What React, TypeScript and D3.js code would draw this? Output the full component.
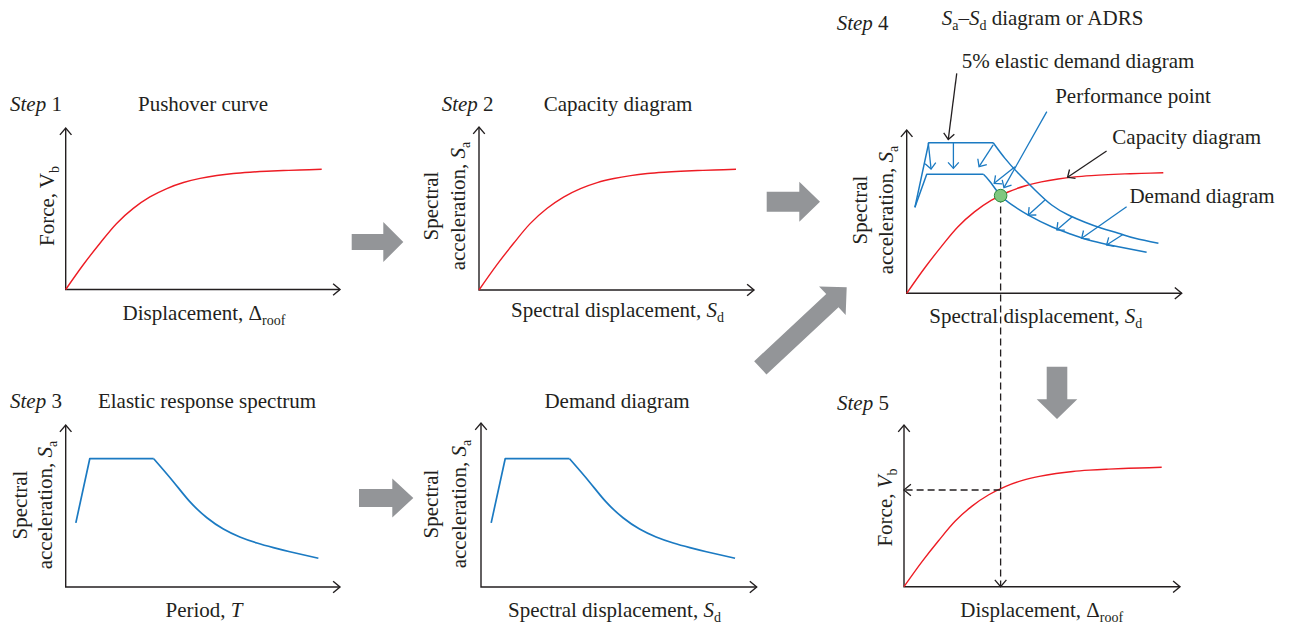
import React from "react";
import * as d3 from "d3";

// Pushover / capacity curve (normalised displacement 0–10, force 0–100)
const capacityDisp = [0, 0.7, 1.34, 1.99, 2.64, 3.29, 3.95, 4.6, 5.25, 5.9, 6.55, 7.2, 7.85, 8.5, 9.15, 10];
const capacityForce = [0, 21, 38.5, 55, 67.5, 77, 84, 89, 92.4, 94.8, 96.5, 97.6, 98.4, 99, 99.4, 100];

// Elastic response spectrum (period T vs spectral acceleration, % of plateau)
const spectrumT = [0.16, 0.38, 1.39, 1.7, 1.96, 2.23, 2.49, 2.75, 3.02, 3.28, 3.54, 3.99];
const spectrumSa = [50, 100, 100, 82.1, 66.5, 54.0, 45.2, 39.0, 34.3, 30.7, 27.5, 22.4];

// ADRS: 5% elastic demand diagram
const elasticSd = [0.32, 0.86, 3.37, 3.83, 4.35, 5.0, 5.65, 6.3, 6.95, 7.6, 8.25, 8.9, 9.81];
const elasticSa = [71.3, 124.9, 124.9, 111.9, 99.5, 85.7, 73.2, 64.9, 58.9, 53.9, 49.8, 45.6, 41.5];

// ADRS: reduced (inelastic) demand diagram
const demandSd = [0.32, 0.78, 2.99, 3.25, 3.66, 4.09, 4.74, 5.65, 6.3, 6.95, 7.6, 8.25, 9.35];
const demandSa = [71.3, 98.7, 98.7, 92.5, 81, 73.5, 64.9, 55.2, 49.8, 45.0, 41.5, 38.6, 34.0];

// Performance point (intersection of capacity and demand)
const performanceSd = 3.66;
const performanceSa = 81;

// Reduction arrows from the elastic to the reduced demand
const reductionFromSd = [0.84, 1.82, 3.37, 4.22, 5.39, 6.45, 8.44];
const reductionFromSa = [124.9, 124.9, 123, 105, 77.4, 63.5, 48.9];
const reductionToSd = [0.95, 1.82, 2.82, 3.41, 4.74, 5.85, 7.79];
const reductionToSa = [103, 103.6, 105, 91.2, 64.9, 52.5, 40.0];

// Leader lines for the ADRS annotations
const leaderNames = ["elastic", "performance", "capacity", "demand"];
const leaderFromSd = [1.95, 5.46, 7.79, 8.57];
const leaderFromSa = [182.4, 150.6, 118, 71.8];
const leaderToSd = [1.62, 3.79, 6.27, 6.82];
const leaderToSa = [127.6, 87.6, 96.2, 45.6];

type Pt = [number, number];
const zip = (a: number[], b: number[]): Pt[] => a.map((v, i) => [v, b[i]]);

const INK = "#231f20";
const RED = "#ed1c24";
const BLUE = "#1b7ac2";
const GRAY = "#939598";
const FONT = "'Liberation Serif', 'Times New Roman', serif";

const capacity = zip(capacityDisp, capacityForce);
const spectrum = zip(spectrumT, spectrumSa);
const elastic = zip(elasticSd, elasticSa);
const demand = zip(demandSd, demandSa);

function scales(x0: number, x1: number, xMax: number, y0: number, y1: number, yMax: number) {
  return {
    x: d3.scaleLinear().domain([0, xMax]).range([x0, x1]),
    y: d3.scaleLinear().domain([0, yMax]).range([y0, y1]),
  };
}

type S = ReturnType<typeof scales>;

function arrowHead(x0: number, y0: number, x1: number, y1: number, len = 8, ang = 40) {
  const a = Math.atan2(y1 - y0, x1 - x0);
  const r = (ang * Math.PI) / 180;
  const p1 = [x1 - len * Math.cos(a - r), y1 - len * Math.sin(a - r)];
  const p2 = [x1 - len * Math.cos(a + r), y1 - len * Math.sin(a + r)];
  return `M${p1[0]},${p1[1]}L${x1},${y1}L${p2[0]},${p2[1]}`;
}

function blockArrow(x0: number, y0: number, x1: number, y1: number, sw: number, hw: number, hl: number) {
  const len = Math.hypot(x1 - x0, y1 - y0);
  const ux = (x1 - x0) / len;
  const uy = (y1 - y0) / len;
  const nx = -uy;
  const ny = ux;
  const bx = x1 - ux * hl;
  const by = y1 - uy * hl;
  const pts = [
    [x0 + (nx * sw) / 2, y0 + (ny * sw) / 2],
    [bx + (nx * sw) / 2, by + (ny * sw) / 2],
    [bx + (nx * hw) / 2, by + (ny * hw) / 2],
    [x1, y1],
    [bx - (nx * hw) / 2, by - (ny * hw) / 2],
    [bx - (nx * sw) / 2, by - (ny * sw) / 2],
    [x0 - (nx * sw) / 2, y0 - (ny * sw) / 2],
  ];
  return pts.map((p) => p.join(",")).join(" ");
}

const lineOf = (s: S, curve: d3.CurveFactory) =>
  d3
    .line<Pt>()
    .x((d) => s.x(d[0]))
    .y((d) => s.y(d[1]))
    .curve(curve);

function Axes({ s, top, right }: { s: S; top: number; right: number }) {
  const ox = s.x(0);
  const oy = s.y(0);
  return (
    <g stroke={INK} strokeWidth={1.4} fill="none">
      <path d={`M${ox},${top}V${oy}H${right}`} />
      <path d={arrowHead(ox, oy, ox, top, 9, 40)} />
      <path d={arrowHead(ox, oy, right, oy, 9, 40)} />
    </g>
  );
}

function CapacityCurve({ s }: { s: S }) {
  return (
    <path
      d={lineOf(s, d3.curveCatmullRom.alpha(0.5))(capacity) || ""}
      fill="none"
      stroke={RED}
      strokeWidth={1.4}
    />
  );
}

// Piecewise spectrum: straight rise and plateau, smooth descending branch
function Spectrum({ s, data, width = 1.7 }: { s: S; data: Pt[]; width?: number }) {
  const straight = lineOf(s, d3.curveLinear)(data.slice(0, 3)) || "";
  const falling = lineOf(s, d3.curveNatural)(data.slice(2)) || "";
  return (
    <g fill="none" stroke={BLUE} strokeWidth={width} strokeLinejoin="round">
      <path d={straight} />
      <path d={falling} />
    </g>
  );
}

const Sub = ({ t }: { t: string }) => (
  <tspan dy={5} fontSize={14}>
    {t}
  </tspan>
);

function StepLabel({ x, y, n }: { x: number; y: number; n: string }) {
  return (
    <text x={x} y={y}>
      <tspan fontStyle="italic">Step</tspan>
      {" " + n}
    </text>
  );
}

function SaLabel({ x1, x2, y }: { x1: number; x2: number; y: number }) {
  return (
    <g>
      <text transform={`translate(${x1},${y}) rotate(-90)`} textAnchor="middle">
        Spectral
      </text>
      <text transform={`translate(${x2},${y}) rotate(-90)`} textAnchor="middle">
        {"acceleration, "}
        <tspan fontStyle="italic">S</tspan>
        <Sub t="a" />
      </text>
    </g>
  );
}

function SdLabel({ x, y }: { x: number; y: number }) {
  return (
    <text x={x} y={y} textAnchor="middle">
      {"Spectral displacement, "}
      <tspan fontStyle="italic">S</tspan>
      <Sub t="d" />
    </text>
  );
}

function DispLabel({ x, y }: { x: number; y: number }) {
  return (
    <text x={x} y={y} textAnchor="middle">
      {"Displacement, Δ"}
      <Sub t="roof" />
    </text>
  );
}

function ForceLabel({ x, y, italicV }: { x: number; y: number; italicV: boolean }) {
  return (
    <text transform={`translate(${x},${y}) rotate(-90)`} textAnchor="middle">
      {"Force, "}
      <tspan fontStyle={italicV ? "italic" : "normal"}>V</tspan>
      <Sub t="b" />
    </text>
  );
}

export default function App() {
  // panel scales
  const s1 = scales(65.7, 321.7, 10, 289.5, 169.3, 100);
  const s2 = scales(479, 736, 10, 290, 169.3, 100);
  const s3 = scales(65.7, 319, 4, 587, 458.7, 100);
  const s4 = scales(481, 735.7, 4, 587, 458.7, 100);
  const s5 = scales(906.7, 1163.3, 10, 293.3, 172.7, 100);
  const s6 = scales(904, 1161.7, 10, 586.7, 467.3, 100);

  const px = s5.x(performanceSd);
  const py = s5.y(performanceSa);
  const fy = s6.y(performanceSa);
  const baseY6 = s6.y(0);
  const axisX6 = s6.x(0);

  const leaderColor: Record<string, string> = {
    elastic: INK,
    performance: BLUE,
    capacity: INK,
    demand: BLUE,
  };

  return (
    <svg
      width={1289}
      height={625}
      style={{ position: "absolute", left: 0, top: 0, display: "block", background: "#fff" }}
      fontFamily={FONT}
      fontSize={21}
      fill={INK}
    >
      {/* Block arrows linking the steps */}
      <g fill={GRAY}>
        <polygon points={blockArrow(351.7, 242, 403.3, 242, 16, 40, 20)} />
        <polygon points={blockArrow(359, 498, 413.3, 498, 18, 39, 21)} />
        <polygon points={blockArrow(766.7, 201.7, 820, 201.7, 20, 40, 20.7)} />
        <polygon points={blockArrow(760.3, 367.8, 846.7, 287.3, 18, 39, 19.6)} />
        <polygon points={blockArrow(1057, 366.7, 1057, 419, 20.6, 40.6, 19.7)} />
      </g>

      {/* Step 1: pushover curve */}
      <StepLabel x={10} y={111} n="1" />
      <text x={203} y={111} textAnchor="middle">Pushover curve</text>
      <Axes s={s1} top={128} right={340} />
      <CapacityCurve s={s1} />
      <DispLabel x={204} y={320} />
      <ForceLabel x={53.5} y={206} italicV={false} />

      {/* Step 2: capacity diagram */}
      <StepLabel x={441.7} y={111} n="2" />
      <text x={618} y={111} textAnchor="middle">Capacity diagram</text>
      <Axes s={s2} top={127} right={754} />
      <CapacityCurve s={s2} />
      <SdLabel x={617.5} y={317} />
      <SaLabel x1={438} x2={465} y={206} />

      {/* Step 3: elastic response spectrum */}
      <StepLabel x={10} y={408} n="3" />
      <text x={207} y={408} textAnchor="middle">Elastic response spectrum</text>
      <Axes s={s3} top={425} right={340} />
      <Spectrum s={s3} data={spectrum} />
      <text x={204} y={616.5} textAnchor="middle">
        {"Period, "}
        <tspan fontStyle="italic">T</tspan>
      </text>
      <SaLabel x1={26.5} x2={52} y={505} />

      {/* Demand diagram */}
      <text x={617} y={408} textAnchor="middle">Demand diagram</text>
      <Axes s={s4} top={423} right={756.7} />
      <Spectrum s={s4} data={spectrum} />
      <SdLabel x={614.5} y={617} />
      <SaLabel x1={438} x2={466} y={504} />

      {/* Step 4: ADRS */}
      <StepLabel x={836.7} y={29.5} n="4" />
      <text x={941.7} y={25} style={{ whiteSpace: "pre" }}>
        <tspan fontStyle="italic">S</tspan>
        <Sub t="a" />
        <tspan dy={-5}>–</tspan>
        <tspan fontStyle="italic">S</tspan>
        <Sub t="d" />
        <tspan dy={-5}>{" diagram or ADRS"}</tspan>
      </text>
      <text x={1078} y={68} textAnchor="middle">5% elastic demand diagram</text>
      <text x={1133} y={103} textAnchor="middle">Performance point</text>
      <text x={1186.7} y={144} textAnchor="middle">Capacity diagram</text>
      <text x={1202} y={202.5} textAnchor="middle">Demand diagram</text>

      <Axes s={s5} top={130} right={1181.7} />
      <CapacityCurve s={s5} />
      <Spectrum s={s5} data={elastic} width={1.5} />
      <Spectrum s={s5} data={demand} width={1.5} />

      <g fill="none" stroke={BLUE} strokeWidth={1.3}>
        {reductionFromSd.map((d, i) => {
          const x0 = s5.x(d);
          const y0 = s5.y(reductionFromSa[i]);
          const x1 = s5.x(reductionToSd[i]);
          const y1 = s5.y(reductionToSa[i]);
          return (
            <g key={i}>
              <line x1={x0} y1={y0} x2={x1} y2={y1} />
              <path d={arrowHead(x0, y0, x1, y1, 8, 42)} />
            </g>
          );
        })}
      </g>

      <g fill="none" strokeWidth={1.3}>
        {leaderNames.map((n, i) => {
          const x0 = s5.x(leaderFromSd[i]);
          const y0 = s5.y(leaderFromSa[i]);
          const x1 = s5.x(leaderToSd[i]);
          const y1 = s5.y(leaderToSa[i]);
          return (
            <g key={n} stroke={leaderColor[n]}>
              <line x1={x0} y1={y0} x2={x1} y2={y1} />
              <path d={arrowHead(x0, y0, x1, y1, 8, 42)} />
            </g>
          );
        })}
      </g>

      <SdLabel x={1035.8} y={322.5} />
      <SaLabel x1={866.5} x2={893} y={210} />

      {/* Step 5: pushover curve with performance point */}
      <StepLabel x={837} y={410} n="5" />
      <Axes s={s6} top={425} right={1180} />
      <CapacityCurve s={s6} />
      <DispLabel x={1041.7} y={616.5} />
      <ForceLabel x={891.5} y={507.5} italicV={true} />

      {/* Performance point projection */}
      <g fill="none" stroke={INK} strokeWidth={1.3}>
        <line x1={px} y1={py} x2={px} y2={baseY6} strokeDasharray="7 4" />
        <path d={arrowHead(px, py, px, baseY6, 9, 40)} />
        <line x1={px} y1={fy} x2={axisX6} y2={fy} strokeDasharray="7 4" />
        <path d={arrowHead(px, fy, axisX6, fy, 9, 40)} />
      </g>
      <circle cx={px} cy={py} r={6.3} fill="#80c77f" stroke="#2e8b3d" strokeWidth={1} />
    </svg>
  );
}
